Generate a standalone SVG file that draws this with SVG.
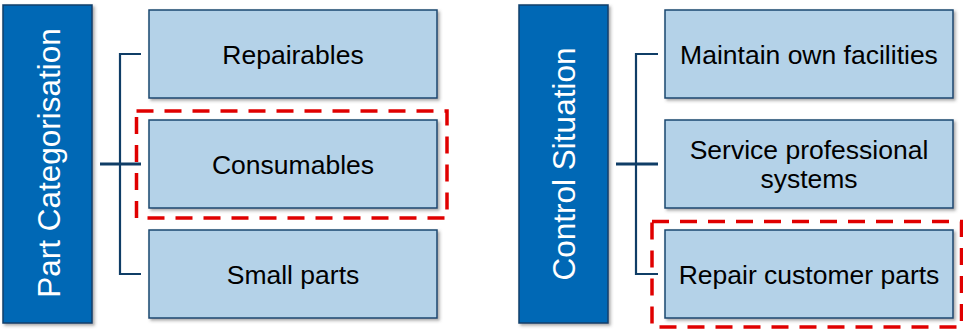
<svg xmlns="http://www.w3.org/2000/svg" width="963" height="329" viewBox="0 0 963 329">
  <defs>
    <filter id="shadow" x="-5%" y="-5%" width="115%" height="120%">
      <feDropShadow dx="2" dy="2" stdDeviation="1.5" flood-color="#555" flood-opacity="0.5"/>
    </filter>
  </defs>
  <style>
    .bar { fill: #0068B5; stroke: #0B3F6B; stroke-width: 1.5; filter: url(#shadow); }
    .box { fill: #B4D2E8; stroke: #1B4870; stroke-width: 1.5; filter: url(#shadow); }
    .title { font-family: "Liberation Sans", Arial, sans-serif; font-size: 31.5px; fill: #FFFFFF; text-anchor: middle; }
    .label { font-family: "Liberation Sans", Arial, sans-serif; font-size: 26.5px; fill: #000000; text-anchor: middle; }
    .link { fill: none; stroke: #0F3D66; stroke-width: 2.2; }
    .trunk { fill: none; stroke: #0F3D66; stroke-width: 3; }
    .highlight { fill: none; stroke: #E00000; stroke-width: 3.5; stroke-dasharray: 17 11; }
  </style>

  <!-- Left column: part categorisation -->
  <g id="part-categorisation">
    <rect class="bar" x="3" y="5" width="89" height="318"/>
    <text class="title" transform="translate(59.5,163) rotate(-90)" x="0" y="0">Part Categorisation</text>
  </g>
  <g id="repairables">
    <rect class="box" x="149" y="10" width="288" height="88"/>
    <text class="label" x="293" y="63.5">Repairables</text>
  </g>
  <g id="consumables">
    <rect class="box" x="149" y="120" width="288" height="88"/>
    <text class="label" x="293" y="173.5">Consumables</text>
  </g>
  <g id="small-parts">
    <rect class="box" x="149" y="230" width="288" height="88"/>
    <text class="label" x="293" y="283.5">Small parts</text>
  </g>

  <!-- Right column: control situation -->
  <g id="control-situation">
    <rect class="bar" x="519" y="5" width="89" height="318"/>
    <text class="title" transform="translate(575,164) rotate(-90)" x="0" y="0">Control Situation</text>
  </g>
  <g id="maintain-own-facilities">
    <rect class="box" x="665" y="10" width="288" height="88"/>
    <text class="label" x="809" y="63.5">Maintain own facilities</text>
  </g>
  <g id="service-professional-systems">
    <rect class="box" x="665" y="120" width="288" height="88"/>
    <text class="label" x="809" y="158.8">Service professional</text>
    <text class="label" x="809" y="187.8">systems</text>
  </g>
  <g id="repair-customer-parts">
    <rect class="box" x="665" y="230" width="288" height="88"/>
    <text class="label" x="809" y="283.5">Repair customer parts</text>
  </g>

  <!-- Bracket connectors -->
  <g id="connectors">
    <path class="link" d="M141 54 H120 V274 H141"/>
    <path class="trunk" d="M100 164 H141"/>
    <path class="link" d="M658 54 H636 V274 H658"/>
    <path class="trunk" d="M616 164 H658"/>
  </g>

  <!-- Dashed highlight frames -->
  <g id="highlights">
    <rect class="highlight" x="136.5" y="111" width="310.5" height="107"/>
    <rect class="highlight" x="652" y="221.5" width="309.5" height="105.5"/>
  </g>
</svg>
